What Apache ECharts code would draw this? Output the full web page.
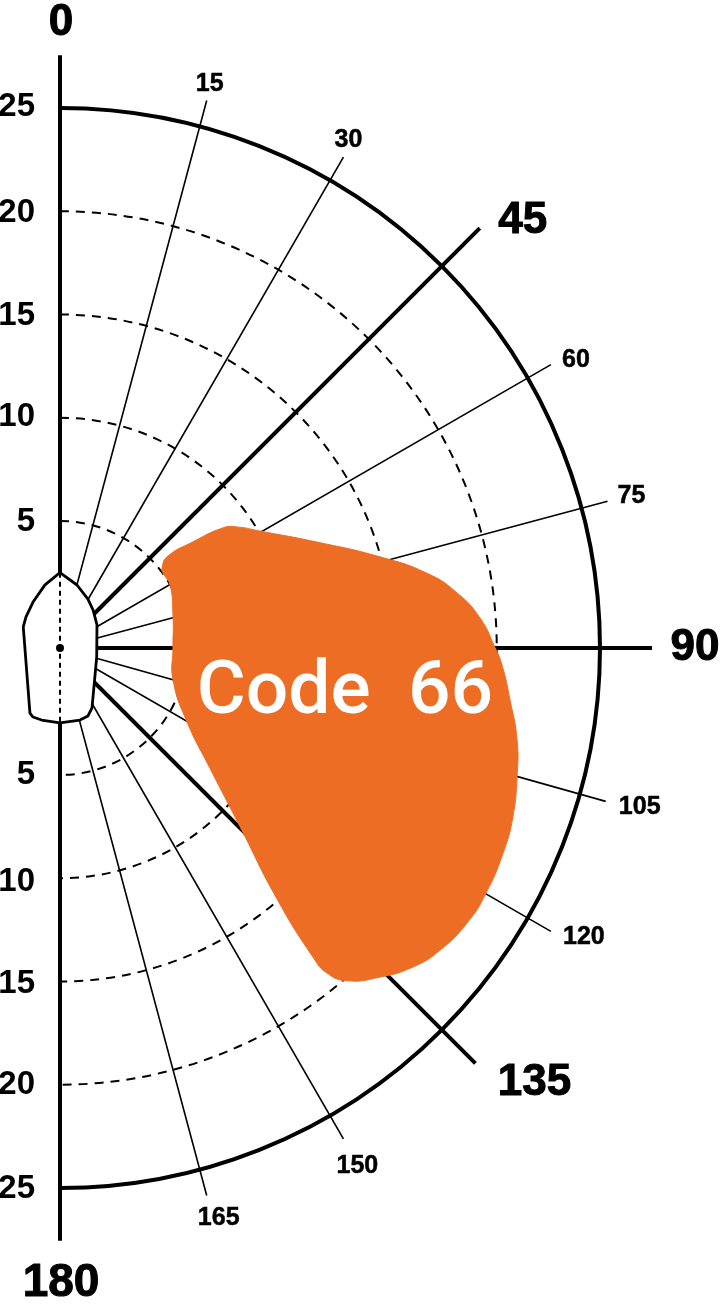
<!DOCTYPE html>
<html><head><meta charset="utf-8"><style>html,body{margin:0;padding:0;background:#fff}#c{width:720px;height:1309px}</style>
<script src="https://cdn.jsdelivr.net/npm/echarts@6/dist/echarts.min.js"></script></head>
<body><div id="c"></div><script>
// boat speed rings (knots), angles (deg) as [speed, angle]
const ringSpeeds = [5, 10, 15, 20];
const outerRing = [25];
const majorSpokes = [[27.55,0],[27.6,45],[27.52,90],[27.3,135],[27.55,180]];
const minorSpokes = [[26.3,15],[26.3,30],[26.3,60],[26.3,75],[26.3,105.7],[26.3,120],[26.3,150],[26.3,165]];
const spokeTickLabels = ['0','15','30','45','60','75','90','105','120','135','150','165','180'];
const speedTickLabels = ['5','10','15','20','25'];
const sailingRange = [
[5.13,51.9],[5.65,49.6],[7.09,51.4],[8.65,53.6],[9.23,55.6],[10.07,59.7],[12.31,67.6],[14.96,74.1],[16.99,78.5],
[18.26,82.1],[19.24,85.9],[19.91,89.9],[20.27,92.2],[20.79,96.6],[21.43,101.4],[21.85,105.8],[22.26,110.5],
[22.49,114.8],[22.65,119.9],[22.64,124.0],[22.36,128.5],[21.89,132.1],[21.08,135.8],[20.14,139.2],[19.22,140.6],
[18.19,140.7],[14.85,139.1],[11.15,134.8],[8.15,128.7],[5.97,120.2],[4.54,105.8],[4.32,90],[4.55,73.7],[4.99,60.2],[5.02,53.9]];
const hullOutline = [[2.5,0],[2.01,15.1],[1.58,29.7],[1.29,41],[0.96,58.1],[0.68,103.8],[2.14,151.9],[2.41,157.6],[2.47,164.5],[2.48,180],
[2.45,194.3],[2.44,201.4],[2.32,204.8],[0.9,299.8],[1.08,312.4],[1.43,329.6],[1.99,346.6]];
const centreLine = [[2.5,0],[2.48,180]];
const sailName = 'Code  66';

const ink = '#000';
const R_MIN = -1.15, R_MAX = 28.85;
const FONT = '"Liberation Sans", Arial, sans-serif';
// pixel placement of text relative to the spoke ends / ring crossings
const spokeLabelStyle = {
 '0':[1,-32,44],'15':[3,-16,25],'30':[5,-17,25],'45':[43,-7,44],'60':[25,-4,25],'75':[24,-5,25],'90':[43,0,44],
 '105':[34,5.5,25],'120':[33,6,25],'135':[59,19,44],'150':[14,27,25],'165':[12,23,25],'180':[1,43,46]};
const speedLabelOffset = {'5':[1,0],'10':[-1,4],'15':[1.5,2.5],'20':[2,0],'25':[-1,1]};
const allSpokes = majorSpokes.concat(minorSpokes);

function once(fn){return (p,api)=> p.dataIndex===0 ? fn(api) : null;}
function base(data,z,fn){return {type:'custom',coordinateSystem:'polar',silent:true,data:data,z:z,clip:false,animation:false,renderItem:once(fn)};}

const series = [
 base(ringSpeeds.concat(outerRing).map(s=>[s,0]),2,api=>{
   const c=api.coord([R_MIN,0]);
   const ch=ringSpeeds.concat(outerRing).map(s=>{
     const p=api.coord([s,0]); const r=c[1]-p[1]; const solid=s===25;
     return {type:'arc',shape:{cx:c[0],cy:c[1],r:r,startAngle:-Math.PI/2,endAngle:Math.PI/2,clockwise:true},
       style:{fill:null,stroke:ink,lineWidth:solid?4:2,lineDash:solid?null:[9,7]}};
   });
   return {type:'group',children:ch};
 }),
 base(allSpokes,3,api=>{
   const ch=allSpokes.map(s=>{
     const a=api.coord([R_MIN,s[1]]), b=api.coord(s);
     const major=majorSpokes.indexOf(s)>=0;
     return {type:'line',shape:{x1:a[0],y1:a[1],x2:b[0],y2:b[1]},style:{stroke:ink,lineWidth:major?4:1.6}};
   });
   return {type:'group',children:ch};
 }),
 base(hullOutline,4,api=>{
   const a=api.coord(centreLine[0]),b=api.coord(centreLine[1]),c=api.coord([R_MIN,0]);
   return {type:'group',children:[
     {type:'polygon',shape:{points:hullOutline.map(p=>api.coord(p))},style:{fill:'#fff',stroke:ink,lineWidth:2.8,lineJoin:'round'}},
     {type:'line',shape:{x1:a[0],y1:a[1],x2:b[0],y2:b[1]},style:{stroke:ink,lineWidth:2,lineDash:[5,4]}},
     {type:'circle',shape:{cx:c[0],cy:c[1],r:4},style:{fill:ink}}
   ]};
 }),
 base(sailingRange,5,api=>({type:'polygon',shape:{points:sailingRange.map(p=>api.coord(p)),smooth:0.5},style:{fill:'#ee6d25',stroke:'#ee6d25',lineWidth:1}})),
 base(allSpokes,6,api=>{
   const ch=[];
   spokeTickLabels.forEach(t=>{
     const s=allSpokes.find(q=>Math.round(q[1]/15)*15===+t); const p=api.coord(s); const o=spokeLabelStyle[t]; const big=o[2]>30;
     ch.push({type:'text',style:{text:t,x:p[0]+o[0],y:p[1]+o[1],fill:ink,font:'bold '+o[2]+'px '+FONT,align:'center',verticalAlign:'middle',
       stroke:ink,lineWidth:big?1:0.5}});
   });
   speedTickLabels.forEach(t=>{
     const off=speedLabelOffset[t];
     [0,180].forEach((d,i)=>{
       const p=api.coord([+t,d]);
       ch.push({type:'text',style:{text:t,x:35,y:p[1]+off[i],fill:ink,font:'bold 33px '+FONT,align:'right',verticalAlign:'middle'}});
     });
   });
   ch.push({type:'text',style:{text:sailName,x:345,y:694.5,fill:'#fff',font:'500 75px Roboto, sans-serif',align:'center',verticalAlign:'middle'}});
   return {type:'group',children:ch};
 })
];

const chart = echarts.init(document.getElementById('c'),null,{renderer:'canvas'});
chart.setOption({
 animation:false,backgroundColor:'#fff',
 polar:{center:[60,648],radius:619.5},
 angleAxis:{type:'value',min:0,max:360,startAngle:90,clockwise:true,show:false},
 radiusAxis:{type:'value',min:R_MIN,max:R_MAX,show:false},
 series:series
});
</script></body></html>
